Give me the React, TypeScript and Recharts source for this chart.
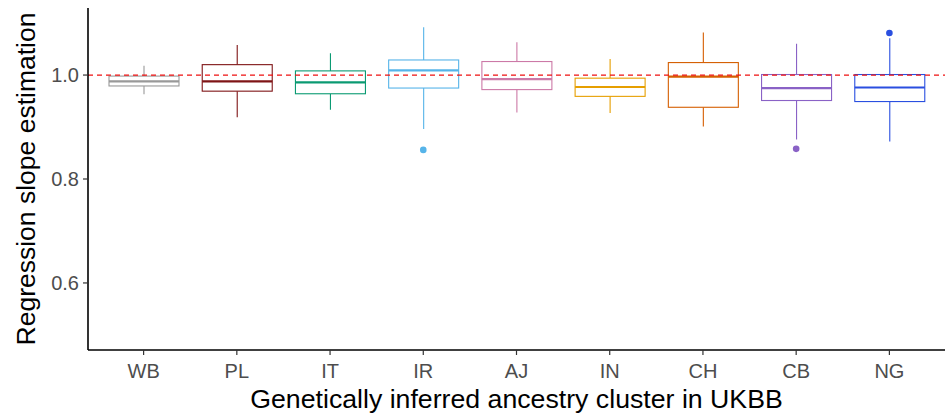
import { ComposedChart, Bar, Scatter, XAxis, YAxis, ReferenceLine, Label } from "recharts";

const categories = ["WB", "PL", "IT", "IR", "AJ", "IN", "CH", "CB", "NG"];
const lowerWhisker = [0.963, 0.919, 0.933, 0.896, 0.928, 0.927, 0.901, 0.876, 0.872];
const q1 = [0.979, 0.969, 0.964, 0.975, 0.972, 0.959, 0.938, 0.951, 0.949];
const medians = [0.988, 0.988, 0.986, 1.009, 0.992, 0.977, 0.997, 0.975, 0.976];
const q3 = [0.998, 1.02, 1.008, 1.029, 1.026, 0.994, 1.024, 1.001, 1.001];
const upperWhisker = [1.018, 1.058, 1.042, 1.092, 1.063, 1.031, 1.082, 1.06, 1.071];
const outliers: (number | null)[] = [null, null, null, 0.856, null, null, null, 0.858, 1.081];
const yTicks = [0.6, 0.8, 1.0];

const COLORS = [
  "#999999",
  "#7f1416",
  "#0a9a72",
  "#56b4e9",
  "#cc79a7",
  "#e69f00",
  "#d55e00",
  "#8a62c6",
  "#2a4fe0"
];

const data = categories.map((cat, i) => ({
  cat,
  range: [lowerWhisker[i], upperWhisker[i]],
  lo: lowerWhisker[i],
  q1: q1[i],
  med: medians[i],
  q3: q3[i],
  hi: upperWhisker[i],
  outlier: outliers[i],
  color: COLORS[i]
}));

const FONT = "'Liberation Sans', Arial, sans-serif";

function BoxShape(props: any) {
  const { x, y, width, height, payload } = props;
  if (payload == null) return null;
  const top = Math.min(y, y + height);
  const h = Math.abs(height);
  const pxPer = h / (payload.hi - payload.lo);
  const py = (v: number) => top + (payload.hi - v) * pxPer;
  const cx = x + width / 2;
  const c = payload.color;
  return (
    <g>
      <line x1={cx} x2={cx} y1={py(payload.hi)} y2={py(payload.q3)} stroke={c} strokeWidth={1.1} />
      <line x1={cx} x2={cx} y1={py(payload.q1)} y2={py(payload.lo)} stroke={c} strokeWidth={1.1} />
      <rect
        x={x}
        y={py(payload.q3)}
        width={width}
        height={py(payload.q1) - py(payload.q3)}
        fill="#ffffff"
        stroke={c}
        strokeWidth={1.1}
      />
      <line x1={x} x2={x + width} y1={py(payload.med)} y2={py(payload.med)} stroke={c} strokeWidth={2.2} />
    </g>
  );
}

function OutlierShape(props: any) {
  const { cx, cy, payload } = props;
  if (payload == null || payload.outlier == null || !isFinite(cy)) return null;
  return <circle cx={cx} cy={cy} r={3.3} fill={payload.color} />;
}

function XTick(props: any) {
  const { x, y, payload } = props;
  return (
    <text x={x} y={y + 21} textAnchor="middle" fill="#4d4d4d" fontSize={20} fontFamily={FONT}>
      {payload.value}
    </text>
  );
}

function YTick(props: any) {
  const { x, y, payload } = props;
  return (
    <text x={x - 2} y={y + 7} textAnchor="end" fill="#4d4d4d" fontSize={20} fontFamily={FONT}>
      {Number(payload.value).toFixed(1)}
    </text>
  );
}

function YTitle(props: any) {
  const { viewBox } = props;
  const cy = viewBox.y + viewBox.height / 2;
  return (
    <text
      transform={`translate(35, ${cy}) rotate(-90)`}
      textAnchor="middle"
      fill="#000"
      fontSize={26.5}
      fontFamily={FONT}
    >
      Regression slope estimation
    </text>
  );
}

export default function App() {
  return (
    <div style={{ position: "absolute", left: 0, top: 0, background: "#fff" }}>
      <ComposedChart
        width={945}
        height={418}
        data={data}
        margin={{ top: 8, right: 0, bottom: 8, left: 28 }}
      >
        <XAxis
          dataKey="cat"
          height={60}
          padding={{ left: 9, right: 9 }}
          axisLine={{ stroke: "#000", strokeWidth: 1.6 }}
          tickLine={{ stroke: "#333", strokeWidth: 1.2 }}
          tickSize={5}
          tick={<XTick />}
          interval={0}
        >
          <Label
            value="Genetically inferred ancestry cluster in UKBB"
            position="insideBottom"
            offset={2}
            style={{ fill: "#000", fontSize: 26.7, fontFamily: FONT }}
          />
        </XAxis>
        <YAxis
          type="number"
          domain={[0.471, 1.129]}
          allowDataOverflow
          ticks={yTicks}
          width={60}
          axisLine={{ stroke: "#000", strokeWidth: 1.6 }}
          tickLine={{ stroke: "#333", strokeWidth: 1.2 }}
          tickSize={5}
          tick={<YTick />}
        >
          <Label content={<YTitle />} />
        </YAxis>
        <Bar dataKey="range" barSize={70} shape={<BoxShape />} isAnimationActive={false} />
        <Scatter dataKey="outlier" shape={<OutlierShape />} isAnimationActive={false} />
        <ReferenceLine y={1} stroke="#ee1111" strokeWidth={1.3} strokeDasharray="5 4" />
      </ComposedChart>
    </div>
  );
}
